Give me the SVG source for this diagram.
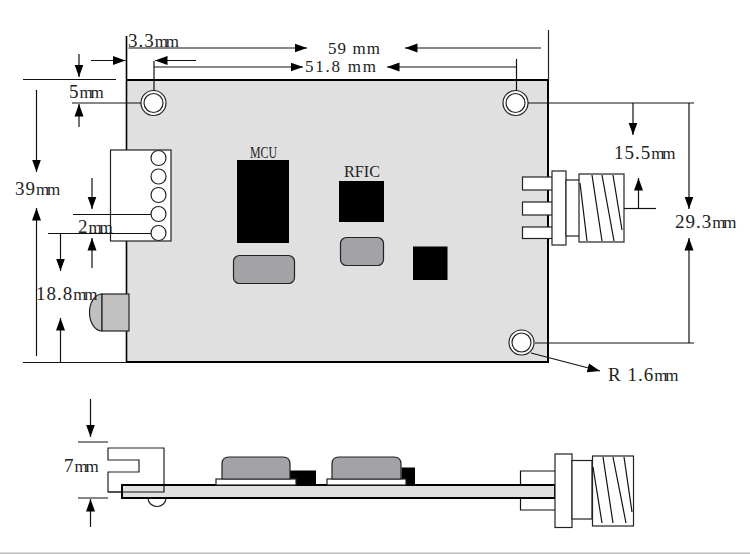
<svg xmlns="http://www.w3.org/2000/svg" width="750" height="554" viewBox="0 0 750 554">
<style>
.t{font-family:"Liberation Serif","Times New Roman",serif;font-size:19px;fill:#222}
.d{letter-spacing:1px}
.m{font-size:17px;letter-spacing:-2.200px}
.s{font-size:17px}
.l{fill:none;stroke:#111;stroke-width:1.200}
.a{fill:none;stroke:#111;stroke-width:1.200;marker-end:url(#ah)}
.o{fill:#fff;stroke:#222;stroke-width:1.200}
.g{fill:#a3a2a6;stroke:#222;stroke-width:1.200}
.k{fill:#000}
</style>
<defs>
<marker id="ah" markerUnits="userSpaceOnUse" markerWidth="13" markerHeight="10" refX="12.500" refY="5" orient="auto"><path d="M0 0.500L12.500 5L0 9.500z" fill="#000"/></marker>
</defs>
<rect width="750" height="554" fill="#fff"/>
<rect x="0" y="552.500" width="750" height="1.500" fill="#bbb"/>
<g id="board">
<rect x="127" y="80" width="421" height="282" fill="#e0e0e0"/>
<path d="M127 80H548V362H127" fill="none" stroke="#000" stroke-width="2"/>
<path d="M126.500 36V150M126.500 241V362" fill="none" stroke="#000" stroke-width="1.600"/>
<path d="M548.500 30V80" fill="none" stroke="#222" stroke-width="1.200"/>
</g>
<g id="hole-top-left"><circle cx="153.500" cy="103" r="12.500" class="o"/><circle cx="153.500" cy="103" r="9.500" class="o"/></g>
<g id="hole-top-right"><circle cx="515.500" cy="103" r="12.500" class="o"/><circle cx="515.500" cy="103" r="9.500" class="o"/></g>
<g id="hole-bottom-right"><circle cx="521.500" cy="342.500" r="12.500" class="o"/><circle cx="521.500" cy="342.500" r="9.500" class="o"/></g>
<g id="terminal">
<rect x="110.500" y="150" width="60.500" height="91" class="o"/>
<circle cx="158.500" cy="158" r="7.500" class="o"/><circle cx="158.500" cy="176.500" r="7.500" class="o"/><circle cx="158.500" cy="195" r="7.500" class="o"/><circle cx="158.500" cy="214" r="7.500" class="o"/><circle cx="158.500" cy="233" r="7.500" class="o"/>
</g>
<g id="led">
<path d="M102 294A12.500 18.500 0 0 0 102 331z" fill="#c0c0c0" stroke="#222" stroke-width="1.200"/>
<rect x="102" y="294" width="27" height="37" fill="#c0c0c0" stroke="#222" stroke-width="1.200"/>
</g>
<g id="mcu"><rect x="237" y="160" width="52" height="83" class="k"/><text x="250" y="158" class="t s" textLength="27" lengthAdjust="spacingAndGlyphs">MCU</text></g>
<g id="rfic"><rect x="339" y="181" width="45" height="41" class="k"/><text x="344" y="177" class="t s" textLength="36" lengthAdjust="spacingAndGlyphs">RFIC</text></g>
<g id="crystal-1"><rect x="233.500" y="255.500" width="61" height="28" rx="6" class="g"/></g>
<g id="crystal-2"><rect x="340.500" y="237.500" width="43" height="28" rx="6" class="g"/></g>
<g id="chip"><rect x="413" y="246.500" width="34.500" height="33.500" class="k"/></g>
<g id="sma-top">
<rect x="522.500" y="177" width="30" height="13" class="o"/>
<rect x="522.500" y="202" width="30" height="13" class="o"/>
<rect x="522.500" y="227" width="30" height="11.500" class="o"/>
<rect x="552" y="171" width="14" height="74" class="o"/>
<rect x="566" y="180" width="14" height="56" class="o"/>
<rect x="579" y="174" width="45" height="68" class="o"/>
<path d="M580 183L587 241M592 175L602 241M602 175L614 241M613 175L622 230" class="l"/>
</g>
<g id="side-view">
<path d="M108 448H164V492H108V472H139V460H108z" class="o"/>
<path d="M148 498A9 8.500 0 0 0 166 498" class="o"/>
<rect x="122" y="485" width="433" height="13" fill="#e0e0e0" stroke="#000" stroke-width="2"/>
<path d="M108 492H164V485" class="l"/>
<rect x="290" y="470.500" width="26" height="14" class="k"/>
<rect x="401.500" y="467.500" width="13.500" height="17" class="k"/>
<rect x="216" y="479" width="80" height="6" class="o"/>
<rect x="327" y="479" width="79" height="6" class="o"/>
<path d="M222 479V464Q222 457 229 457H283Q290 457 290 464V479z" class="g"/>
<path d="M332 479V464Q332 457 339 457H394Q401 457 401 464V479z" class="g"/>
<path d="M555 471H520.500V484M520.500 498V510H555" class="l"/>
<rect x="555" y="454" width="17" height="73.500" class="o"/>
<rect x="572" y="460.500" width="20" height="58.500" class="o"/>
<rect x="592.500" y="456" width="41" height="70" class="o"/>
<path d="M593 467L602 523M603 457L613 523M613 457L626 523M624 457L632 512" class="l"/>
</g>
<g id="connectors">
<path class="a" d="M128.500 48H307"/><path class="a" d="M541 48H405"/>
<path class="a" d="M154 67H303"/><path class="a" d="M517 67H387"/>
<path class="l" d="M154 61V91M516.500 59V91"/>
<path class="a" d="M196 60.500H155"/><path class="a" d="M91 60.500H125.500"/>
<path class="a" d="M79 54V77"/><path class="l" d="M23 79.500H116M72 103H141"/><path class="a" d="M79 127V104"/>
<path class="a" d="M36.500 90V172"/><path class="a" d="M36.500 356V208"/><path class="l" d="M23 362.500H127"/>
<path class="a" d="M92 178V209"/><path class="l" d="M73 214.500H151M48 233.500H151"/><path class="a" d="M92 268V238"/>
<path class="a" d="M60.500 233.500V271"/><path class="a" d="M60.500 362V318"/>
<path class="l" d="M528 103H694"/><path class="a" d="M633 103V135"/><path class="a" d="M689 103V209"/>
<path class="a" d="M638.500 208V178"/><path class="l" d="M624 208.500H656"/>
<path class="a" d="M689 343V238"/><path class="l" d="M535 343H694"/>
<path class="a" d="M531 353L600 371"/>
<path class="a" d="M90.500 399V437"/><path class="l" d="M78 442H108M78 498H108"/><path class="a" d="M90.500 527V499"/>
</g>
<g id="labels">
<text x="128" y="47" class="t"><tspan class="d" letter-spacing="3">3.3</tspan><tspan class="m">mm</tspan></text>
<text x="328" y="54" class="t" style="font-size:17px" textLength="52">59 mm</text>
<text x="305" y="72" class="t" style="font-size:17px" textLength="71">51.8 mm</text>
<text x="69" y="98" class="t"><tspan class="d">5</tspan><tspan class="m">mm</tspan></text>
<text x="15" y="195" class="t"><tspan class="d">39</tspan><tspan class="m">mm</tspan></text>
<text x="78" y="233" class="t"><tspan class="d">2</tspan><tspan class="m">mm</tspan></text>
<text x="36" y="300" class="t"><tspan class="d" letter-spacing="3">18.8</tspan><tspan class="m">mm</tspan></text>
<text x="614" y="159" class="t"><tspan class="d" letter-spacing="2.500">15.5</tspan><tspan class="m">mm</tspan></text>
<text x="675" y="228" class="t"><tspan class="d" letter-spacing="2.500">29.3</tspan><tspan class="m">mm</tspan></text>
<text x="608" y="381" class="t"><tspan class="d" letter-spacing="2.600">R 1.6</tspan><tspan class="m">mm</tspan></text>
<text x="64" y="472" class="t"><tspan class="d">7</tspan><tspan class="m">mm</tspan></text>
</g>
</svg>
